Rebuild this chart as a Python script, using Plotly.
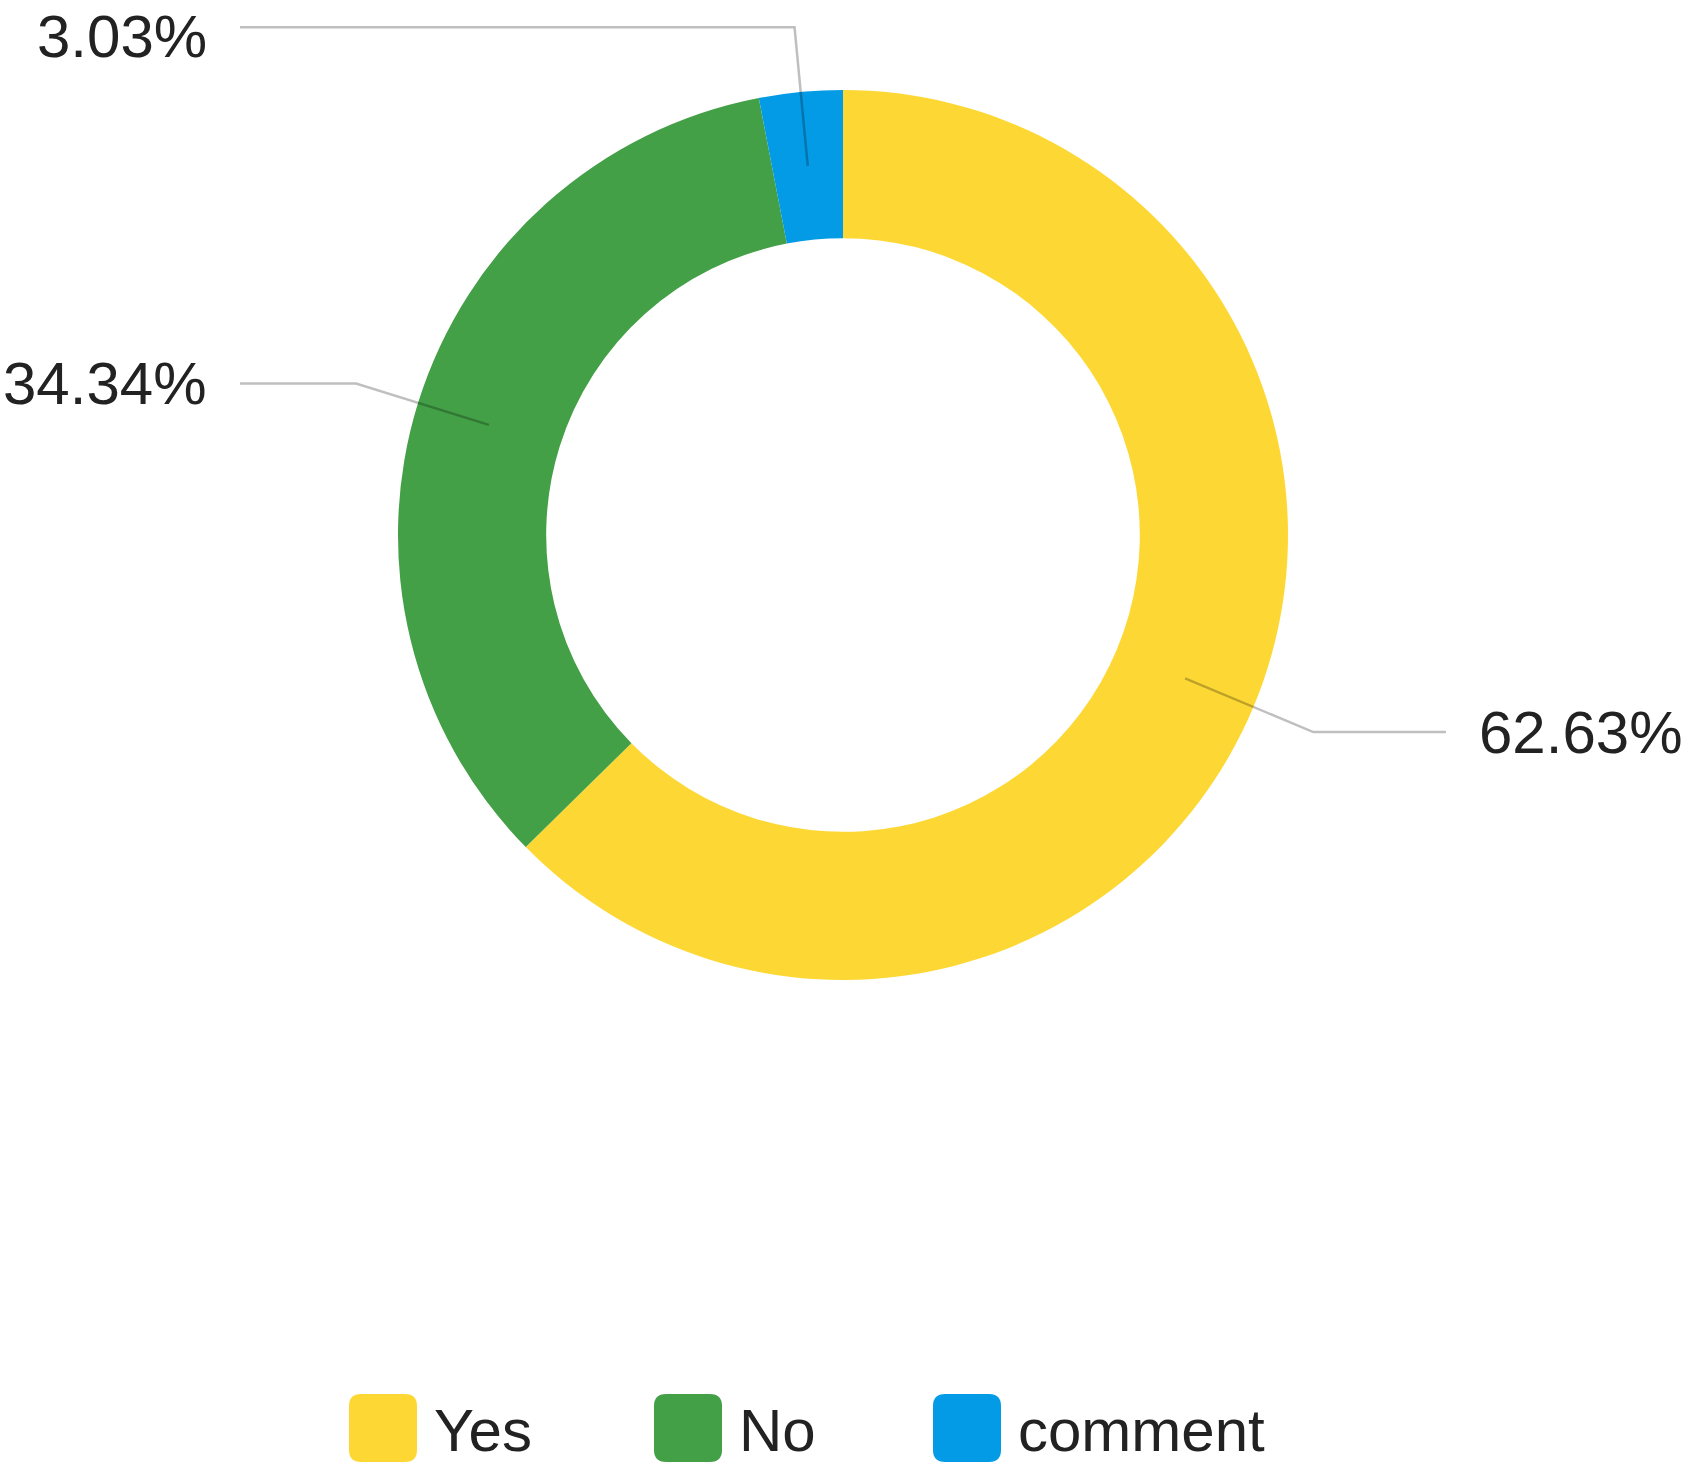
import math
import plotly.graph_objects as go

# ---- data ----
categories = ["Yes", "No", "comment"]
percentages = [62.63, 34.34, 3.03]
colors = ["#FDD835", "#43A047", "#039BE5"]

# ---- layout constants (page pixels) ----
W, H = 1686, 1469
CX, CY = 843, 535
R = 445
HOLE = 0.667
FONT = "Liberation Sans, Arial, sans-serif"
FS = 60
LEG_X = [349, 654, 933]
LEG_Y = 1428
SW = 68
GAP = 32

fig = go.Figure()

fig.add_trace(go.Pie(
    labels=categories,
    values=percentages,
    marker=dict(colors=colors, line=dict(width=0)),
    hole=HOLE,
    sort=False,
    direction="clockwise",
    rotation=0,
    textinfo="none",
    hoverinfo="label+percent",
    showlegend=False,
    domain=dict(x=[(CX - R) / W, (CX + R) / W], y=[1 - (CY + R) / H, 1 - (CY - R) / H]),
))

# invisible pixel-space axes for leader lines / labels
fig.add_trace(go.Scatter(x=[0, W], y=[0, H], mode="markers",
                         marker=dict(opacity=0), hoverinfo="skip", showlegend=False))

shapes = []
annotations = []
total = sum(percentages)
cum = 0.0
r_mid = R * (1 + HOLE) / 2
r_elb = 1.146 * R
for cat, val in zip(categories, percentages):
    mid = (cum + val / 2) / total * 2 * math.pi
    cum += val
    sx, sy = math.sin(mid), -math.cos(mid)
    x0, y0 = CX + r_mid * sx, CY + r_mid * sy
    x1, y1 = CX + r_elb * sx, CY + r_elb * sy
    right = sx >= 0
    x2 = CX + (1.355 * R if right else -1.355 * R)
    path = f"M{x0},{y0} L{x1},{y1} L{x2},{y1}"
    shapes.append(dict(type="path", path=path, xref="x", yref="y", layer="above",
                       line=dict(color="rgba(0,0,0,0.25)", width=2.5)))
    annotations.append(dict(
        x=x2 + (GAP if right else -GAP), y=max(y1, 36), xref="x", yref="y",
        text=f"{val:.2f}%", showarrow=False, borderpad=0,
        xanchor="left" if right else "right", yanchor="middle",
        font=dict(family=FONT, size=FS, color="#222222"),
    ))

# custom legend
for cat, col, lx in zip(categories, colors, LEG_X):
    r = 12
    x0, x1 = lx, lx + SW
    y0, y1 = LEG_Y - SW / 2, LEG_Y + SW / 2
    path = (f"M{x0 + r},{y0} L{x1 - r},{y0} Q{x1},{y0} {x1},{y0 + r} "
            f"L{x1},{y1 - r} Q{x1},{y1} {x1 - r},{y1} L{x0 + r},{y1} "
            f"Q{x0},{y1} {x0},{y1 - r} L{x0},{y0 + r} Q{x0},{y0} {x0 + r},{y0} Z")
    shapes.append(dict(type="path", path=path, xref="x", yref="y",
                       fillcolor=col, line=dict(width=0), layer="above"))
    annotations.append(dict(
        x=lx + SW + 15, y=LEG_Y + 2, xref="x", yref="y", text=cat, showarrow=False,
        xanchor="left", yanchor="middle",
        font=dict(family=FONT, size=FS, color="#222222"),
    ))

fig.update_layout(
    width=W, height=H, autosize=False,
    margin=dict(l=0, r=0, t=0, b=0),
    paper_bgcolor="white", plot_bgcolor="rgba(0,0,0,0)",
    xaxis=dict(range=[0, W], visible=False, fixedrange=True, domain=[0, 1]),
    yaxis=dict(range=[H, 0], visible=False, fixedrange=True, domain=[0, 1]),
    shapes=shapes, annotations=annotations,
    showlegend=False,
)

fig.write_html("out.html", config={"displayModeBar": False},
               post_script="document.body.style.margin='0';document.body.style.overflow='hidden';")
